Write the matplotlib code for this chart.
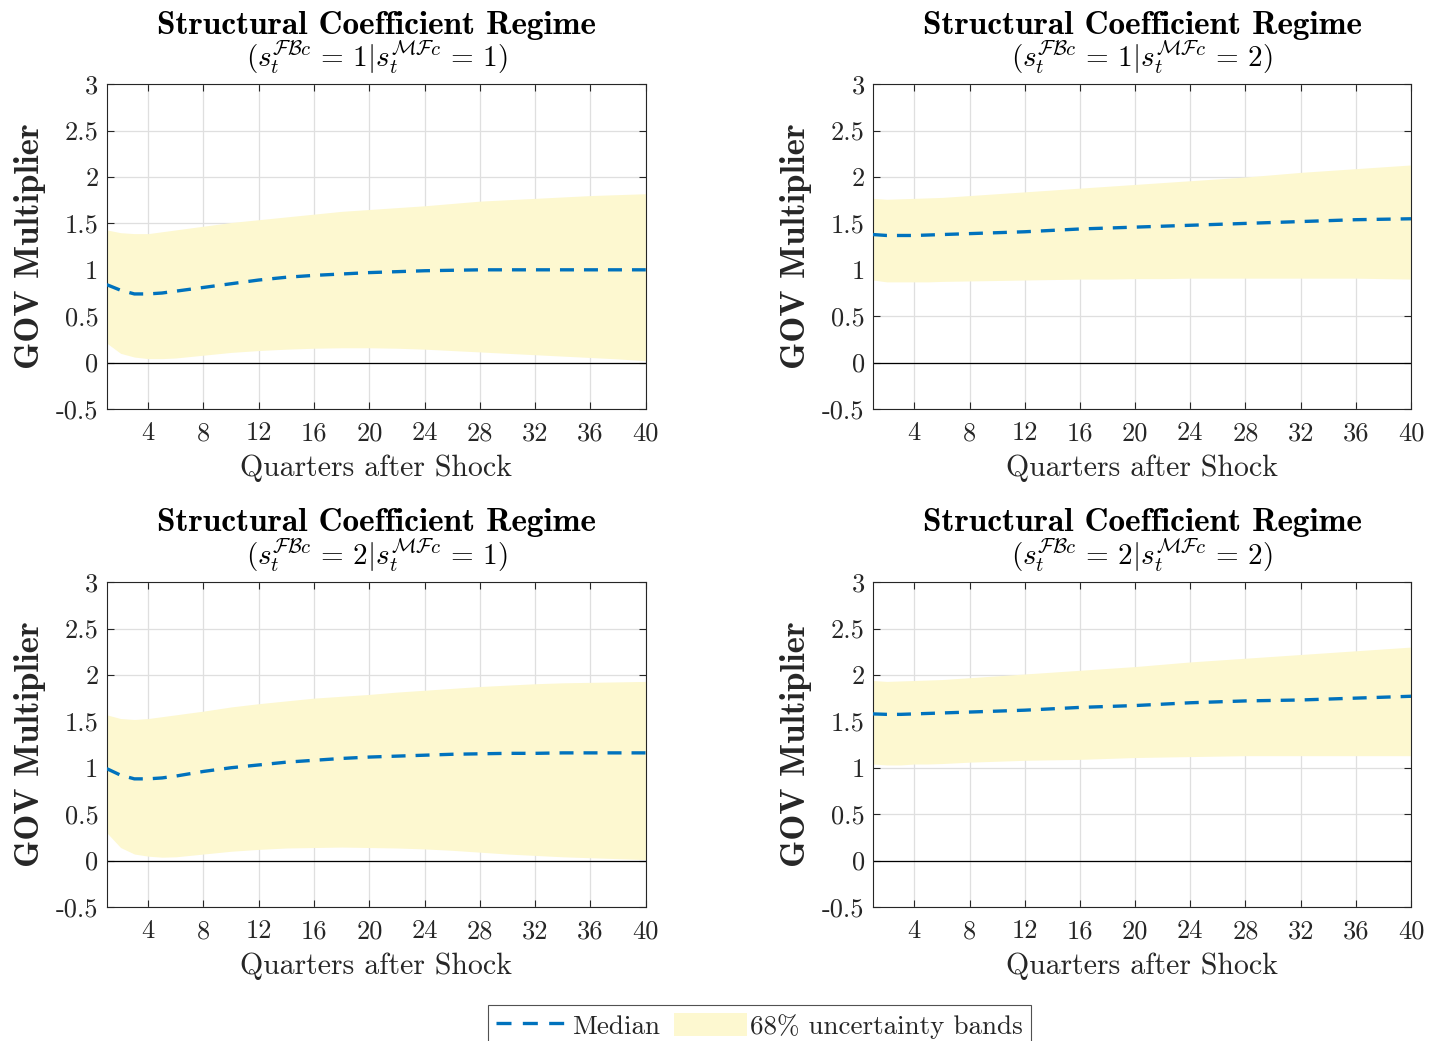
import matplotlib
matplotlib.use("Agg")
import matplotlib.pyplot as plt
from matplotlib.ticker import FixedLocator, FixedFormatter
from matplotlib.lines import Line2D
from matplotlib.patches import Patch

plt.rcParams['mathtext.fontset'] = 'cm'
plt.rcParams['font.family'] = ['cmr10', 'DejaVu Serif']
plt.rcParams['axes.unicode_minus'] = False

# ---------------- data ----------------
quarters = [1, 2, 3, 4, 5, 6, 8, 10, 12, 14, 16, 18, 20, 22, 24, 26, 28, 30, 32, 34, 36, 38, 40]

# regime (FB=1 | MF=1)
med_11 = [0.84, 0.78, 0.74, 0.74, 0.75, 0.77, 0.81, 0.85, 0.89, 0.92, 0.94, 0.955, 0.97, 0.98, 0.99, 0.995, 1.00, 1.00, 1.00, 1.00, 1.00, 1.00, 1.00]
up_11 = [1.43, 1.40, 1.39, 1.39, 1.41, 1.43, 1.47, 1.51, 1.54, 1.57, 1.60, 1.63, 1.65, 1.67, 1.69, 1.715, 1.74, 1.755, 1.77, 1.785, 1.80, 1.81, 1.82]
lo_11 = [0.21, 0.10, 0.06, 0.043, 0.043, 0.05, 0.08, 0.11, 0.13, 0.145, 0.155, 0.16, 0.16, 0.155, 0.145, 0.13, 0.115, 0.10, 0.085, 0.07, 0.055, 0.04, 0.02]

# regime (FB=1 | MF=2)
med_12 = [1.38, 1.37, 1.37, 1.37, 1.375, 1.38, 1.39, 1.40, 1.41, 1.425, 1.44, 1.45, 1.46, 1.47, 1.48, 1.49, 1.50, 1.51, 1.52, 1.53, 1.54, 1.545, 1.55]
up_12 = [1.77, 1.76, 1.765, 1.77, 1.775, 1.78, 1.80, 1.82, 1.84, 1.86, 1.88, 1.90, 1.92, 1.94, 1.96, 1.98, 2.00, 2.025, 2.05, 2.07, 2.09, 2.11, 2.13]
lo_12 = [0.89, 0.87, 0.87, 0.87, 0.87, 0.875, 0.88, 0.885, 0.89, 0.895, 0.90, 0.90, 0.905, 0.905, 0.91, 0.91, 0.91, 0.91, 0.91, 0.91, 0.91, 0.905, 0.90]

# regime (FB=2 | MF=1)
med_21 = [0.99, 0.92, 0.88, 0.88, 0.89, 0.91, 0.96, 1.00, 1.03, 1.06, 1.08, 1.10, 1.115, 1.125, 1.135, 1.145, 1.15, 1.155, 1.155, 1.16, 1.16, 1.16, 1.16]
up_21 = [1.57, 1.53, 1.52, 1.53, 1.55, 1.57, 1.61, 1.655, 1.69, 1.72, 1.75, 1.77, 1.79, 1.815, 1.835, 1.855, 1.875, 1.89, 1.905, 1.915, 1.92, 1.925, 1.93]
lo_21 = [0.30, 0.14, 0.07, 0.047, 0.036, 0.04, 0.07, 0.10, 0.12, 0.135, 0.14, 0.145, 0.14, 0.135, 0.125, 0.11, 0.09, 0.07, 0.055, 0.04, 0.03, 0.02, 0.01]

# regime (FB=2 | MF=2)
med_22 = [1.58, 1.575, 1.575, 1.58, 1.585, 1.59, 1.60, 1.61, 1.62, 1.635, 1.65, 1.66, 1.67, 1.685, 1.70, 1.71, 1.72, 1.725, 1.73, 1.74, 1.75, 1.76, 1.77]
up_22 = [1.94, 1.93, 1.935, 1.94, 1.945, 1.95, 1.97, 1.99, 2.01, 2.03, 2.05, 2.07, 2.09, 2.115, 2.14, 2.16, 2.18, 2.20, 2.22, 2.24, 2.26, 2.28, 2.30]
lo_22 = [1.04, 1.03, 1.03, 1.04, 1.04, 1.045, 1.06, 1.07, 1.08, 1.085, 1.09, 1.10, 1.11, 1.115, 1.12, 1.125, 1.13, 1.13, 1.13, 1.13, 1.13, 1.13, 1.13]

regime_labels = [
    r'$(s_t^{\mathcal{FB}c}\,=\,1|s_t^{\mathcal{MF}c}\,=\,1)$',
    r'$(s_t^{\mathcal{FB}c}\,=\,1|s_t^{\mathcal{MF}c}\,=\,2)$',
    r'$(s_t^{\mathcal{FB}c}\,=\,2|s_t^{\mathcal{MF}c}\,=\,1)$',
    r'$(s_t^{\mathcal{FB}c}\,=\,2|s_t^{\mathcal{MF}c}\,=\,2)$',
]
xtick_vals = [4, 8, 12, 16, 20, 24, 28, 32, 36, 40]
ytick_vals = [-0.5, 0, 0.5, 1, 1.5, 2, 2.5, 3]
ytick_labels = ['-0.5', '0', '0.5', '1', '1.5', '2', '2.5', '3']

panels = [(med_11, up_11, lo_11), (med_12, up_12, lo_12),
          (med_21, up_21, lo_21), (med_22, up_22, lo_22)]

# ---------------- style ----------------
BAND = '#fdf8d0'
LINE = '#0072bd'
TXT = '#262626'
GRID = '#dfdfdf'
LW = 2.4
DASH = (0, (4.2, 3.0))

fig = plt.figure(figsize=(14.29, 10.41), dpi=100)
positions = [
    [0.0747, 0.6071, 0.3772, 0.3120],
    [0.6109, 0.6071, 0.3765, 0.3120],
    [0.0747, 0.1288, 0.3772, 0.3120],
    [0.6109, 0.1288, 0.3765, 0.3120],
]

for i, (pos, (med, up, lo)) in enumerate(zip(positions, panels)):
    ax = fig.add_axes(pos)
    ax.fill_between(quarters, lo, up, color=BAND, linewidth=0, zorder=1)
    ax.axhline(0, color='black', linewidth=0.9, zorder=2)
    ax.plot(quarters, med, color=LINE, linewidth=LW, linestyle=DASH, zorder=3)
    ax.set_xlim(1, 40)
    ax.set_ylim(-0.5, 3)
    ax.xaxis.set_major_locator(FixedLocator(xtick_vals))
    ax.xaxis.set_major_formatter(FixedFormatter([str(v) for v in xtick_vals]))
    ax.yaxis.set_major_locator(FixedLocator(ytick_vals))
    ax.yaxis.set_major_formatter(FixedFormatter(ytick_labels))
    ax.grid(True, color=GRID, linewidth=0.9, zorder=0)
    ax.set_axisbelow(True)
    ax.tick_params(direction='in', length=5, width=0.8, colors=TXT, labelsize=19,
                   top=True, right=True)
    ax.tick_params(axis='x', pad=9)
    ax.tick_params(axis='y', pad=6)
    for sp in ax.spines.values():
        sp.set_color(TXT)
        sp.set_linewidth(0.8)
    ax.set_xlabel('Quarters after Shock', fontsize=21.5, color=TXT, labelpad=7)
    ax.set_ylabel('GOV Multiplier', fontsize=25, color=TXT, family='cmb10', labelpad=7)
    ax.annotate('Structural Coefficient Regime', xy=(0.5, 1), xycoords='axes fraction',
                xytext=(0, 36.5), textcoords='offset points', ha='center', va='baseline',
                fontsize=24, family='cmb10', color='black')
    ax.annotate(regime_labels[i], xy=(0.5, 1), xycoords='axes fraction',
                xytext=(0, 13), textcoords='offset points', ha='center', va='baseline',
                fontsize=21, color='black')

handles = [Line2D([], [], color=LINE, linewidth=LW, linestyle=(0, (4.5, 3.4))),
           Patch(facecolor=BAND, edgecolor='none')]
leg = fig.legend(handles, ['Median', '68% uncertainty bands'], loc='upper center',
                 bbox_to_anchor=(0.5315, 1 - 1005 / 1041), ncol=2, fontsize=19.5, frameon=True,
                 fancybox=False, edgecolor=TXT, handlelength=2.7, handleheight=0.95,
                 columnspacing=0.5, handletextpad=0.12, borderpad=0.28, borderaxespad=0)
leg.get_frame().set_linewidth(0.8)
for t in leg.get_texts():
    t.set_color(TXT)

fig.savefig('out.png', dpi=100)
